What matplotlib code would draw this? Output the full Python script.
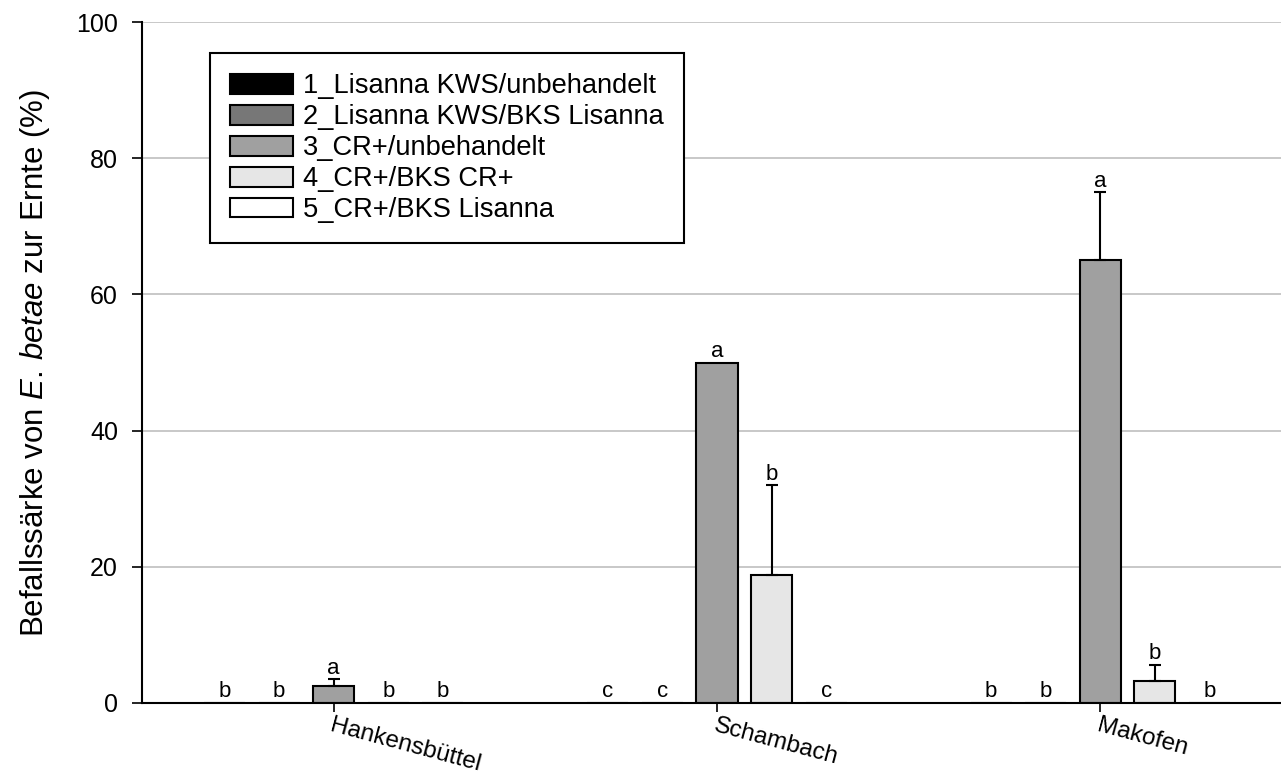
import numpy as np
import matplotlib.pyplot as plt

plt.rcParams['font.family'] = ['Liberation Sans', 'DejaVu Sans']
plt.rcParams['mathtext.fontset'] = 'custom'
plt.rcParams['mathtext.rm'] = 'Liberation Sans'
plt.rcParams['mathtext.it'] = 'Liberation Sans:italic'

# data
sites = ['Hankensbüttel', 'Schambach', 'Makofen']
treatments = ['1_Lisanna KWS/unbehandelt', '2_Lisanna KWS/BKS Lisanna',
              '3_CR+/unbehandelt', '4_CR+/BKS CR+', '5_CR+/BKS Lisanna']
values = [
    [0, 0, 0],
    [0, 0, 0],
    [2.5, 50, 65],
    [0, 18.75, 3.2],
    [0, 0, 0],
]
errors = [
    [0, 0, 0],
    [0, 0, 0],
    [1.0, 0, 10],
    [0, 13.2, 2.4],
    [0, 0, 0],
]
letters = [
    ['b', 'c', 'b'],
    ['b', 'c', 'b'],
    ['a', 'a', 'a'],
    ['b', 'b', 'b'],
    ['b', 'c', 'b'],
]
colors = ['#000000', '#777777', '#a0a0a0', '#e6e6e6', '#ffffff']

fig = plt.figure(figsize=(12.81, 7.78), dpi=100)
ax = fig.add_axes([142 / 1281, 75 / 778, 1150 / 1281, 681 / 778])

x = np.arange(len(sites))
step = 0.1425
width = 0.107
handles = []
for i, name in enumerate(treatments):
    pos = x + (i - 2) * step
    vals = np.array(values[i])
    errs = np.array(errors[i])
    b = ax.bar(pos, vals, width, color=colors[i], edgecolor='black',
               linewidth=1.5, label=name, zorder=2)
    handles.append(b)
    has_err = errs > 0
    if has_err.any():
        ax.errorbar(pos[has_err], vals[has_err],
                    yerr=[np.zeros(has_err.sum()), errs[has_err]],
                    fmt='none', ecolor='black', elinewidth=1.5,
                    capsize=4.5, capthick=1.5, zorder=3)
    for p, v, e, lab in zip(pos, vals, errs, letters[i]):
        ax.annotate(lab, (p, v + e), xytext=(0, 4), textcoords='offset points',
                    ha='center', va='baseline', fontsize=16)

ax.set_xlim(-0.5, 2.5)
ax.set_ylim(0, 100)
ax.set_yticks([0, 20, 40, 60, 80, 100])
ax.set_xticks(x)
ax.set_xticklabels(sites, rotation=-15, ha='left', rotation_mode='anchor')
ax.tick_params(axis='y', length=7.2, width=1.2, pad=10, labelsize=18)
ax.tick_params(axis='x', length=6.5, width=1.2, pad=2, labelsize=17.5)

ax.yaxis.grid(True, color='#c4c4c4', linewidth=1.3)
ax.set_axisbelow(True)
for side in ['top', 'right']:
    ax.spines[side].set_visible(False)
for side in ['left', 'bottom']:
    ax.spines[side].set_linewidth(1.5)

ax.set_ylabel(r'Befallssärke von $\mathit{E.}\,\mathit{betae}$ zur Ernte (%)',
              fontsize=22.5)
ax.yaxis.set_label_coords(-0.078, 0.5)

leg = ax.legend(handles=handles, loc='upper left',
                bbox_to_anchor=(210 / 1281, 1 - 53 / 778),
                bbox_transform=fig.transFigure, borderaxespad=0,
                fontsize=19.6, handlelength=2.3, handleheight=0.75,
                handletextpad=0.35, labelspacing=0.18, borderpad=0.75,
                fancybox=False, framealpha=1)
leg.get_frame().set_edgecolor('black')
leg.get_frame().set_linewidth(1.5)

fig.savefig('out.png', dpi=100)
